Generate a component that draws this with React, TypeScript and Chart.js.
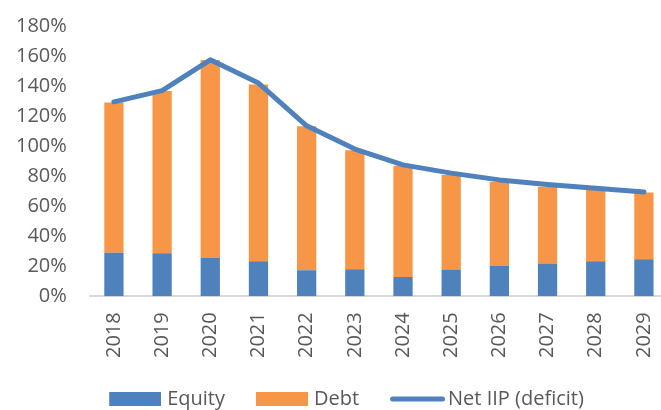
import React, { useEffect, useRef } from "react";
import { Chart, registerables } from "chart.js";

Chart.register(...registerables);

const years = ["2018", "2019", "2020", "2021", "2022", "2023", "2024", "2025", "2026", "2027", "2028", "2029"];
const equity = [29, 28.7, 25.5, 23.3, 17.3, 18, 12.9, 17.8, 20.2, 21.8, 23.3, 24.7];
const debt = [100, 108, 131.8, 117.8, 96, 79.3, 74, 62.9, 56, 51.1, 47.4, 44.4];
const netIIP = [129.5, 137, 157.5, 142, 113.5, 98, 87.5, 82, 77.5, 74.5, 72, 69.5];
const yTicks = [0, 20, 40, 60, 80, 100, 120, 140, 160, 180];

const BLUE = "#4F81BD";
const ORANGE = "#F79646";
const TEXT = "#595959";
const FONT = "'Open Sans', sans-serif";

function rectIcon(color: string) {
  const c = document.createElement("canvas");
  c.width = 56;
  c.height = 14;
  const g = c.getContext("2d")!;
  g.fillStyle = color;
  g.fillRect(4, 0, 52, 14);
  return c;
}

function lineIcon(color: string) {
  const c = document.createElement("canvas");
  c.width = 62;
  c.height = 14;
  const g = c.getContext("2d")!;
  g.strokeStyle = color;
  g.lineWidth = 5;
  g.lineCap = "round";
  g.beginPath();
  g.moveTo(9.5, 7);
  g.lineTo(59.5, 7);
  g.stroke();
  return c;
}

export default function App() {
  const ref = useRef<HTMLCanvasElement>(null);
  useEffect(() => {
    if (!ref.current) return;
    const icons = [rectIcon(BLUE), rectIcon(ORANGE), lineIcon(BLUE)];
    const legendShift = {
      id: "legendShift",
      afterLayout(chart: any) {
        const l = chart.legend;
        if (l) {
          l.left += 16;
          l.right += 16;
          l.top -= 16;
          l.bottom -= 16;
        }
      },
    };
    const chart = new Chart(ref.current, {
      type: "bar",
      data: {
        labels: years,
        datasets: [
          {
            type: "line",
            label: "Net IIP (deficit)",
            data: netIIP,
            borderColor: BLUE,
            backgroundColor: BLUE,
            borderWidth: 5,
            pointRadius: 0,
            tension: 0,
            borderCapStyle: "round",
            borderJoinStyle: "round",
            stack: "line",
            order: 0,
          } as any,
          {
            type: "bar",
            label: "Equity",
            data: equity,
            backgroundColor: BLUE,
            stack: "bars",
            barPercentage: 0.4,
            categoryPercentage: 1,
            order: 1,
          },
          {
            type: "bar",
            label: "Debt",
            data: debt,
            backgroundColor: ORANGE,
            stack: "bars",
            barPercentage: 0.4,
            categoryPercentage: 1,
            order: 1,
          },
        ],
      },
      options: {
        responsive: false,
        animation: false,
        devicePixelRatio: 1,
        layout: { padding: { left: -7, right: 33, top: 26, bottom: 15 } },
        scales: {
          x: {
            stacked: true,
            grid: { display: false, drawTicks: false },
            border: { display: true, color: "#D9D9D9", width: 2 },
            ticks: {
              color: TEXT,
              font: { family: FONT, size: 20 },
              maxRotation: 90,
              minRotation: 90,
              padding: 16,
            },
          },
          y: {
            stacked: true,
            min: 0,
            max: 180,
            afterBuildTicks: (axis: any) => {
              axis.ticks = yTicks.map((v) => ({ value: v }));
            },
            afterFit: (axis: any) => {
              axis.paddingTop = 0;
              axis.paddingBottom = 0;
            },
            grid: { display: false, drawTicks: false },
            border: { display: false },
            ticks: {
              color: TEXT,
              font: { family: FONT, size: 20 },
              padding: 23,
              callback: (v: any) => v + "%",
            },
          },
        },
        plugins: {
          tooltip: { enabled: false },
          legend: {
            position: "bottom",
            labels: {
              color: TEXT,
              font: { family: FONT, size: 20 },
              usePointStyle: true,
              pointStyleWidth: 48,
              boxHeight: 14,
              padding: 31,
              generateLabels: () =>
                ["Equity", "Debt", "Net IIP (deficit)"].map((t, i) => ({
                  text: t,
                  fillStyle: i === 1 ? ORANGE : BLUE,
                  strokeStyle: i === 1 ? ORANGE : BLUE,
                  lineWidth: 0,
                  hidden: false,
                  pointStyle: icons[i],
                  fontColor: TEXT,
                  datasetIndex: i === 2 ? 0 : i,
                })),
            },
          },
        },
      },
      plugins: [legendShift],
    });
    return () => chart.destroy();
  }, []);
  return (
    <div style={{ position: "fixed", left: 0, top: 0, width: 661, height: 410, overflow: "hidden", background: "#fff" }}>
      <canvas ref={ref} width={701} height={450} style={{ display: "block" }} />
    </div>
  );
}
